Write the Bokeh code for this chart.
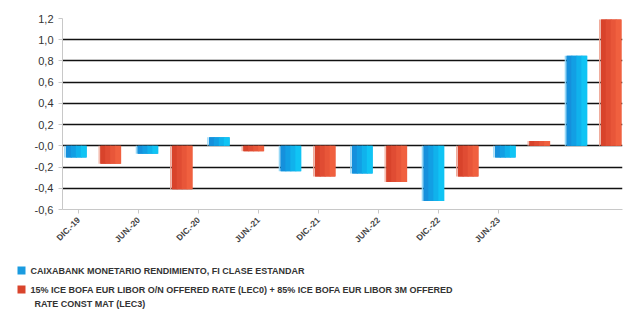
import math
from bokeh.plotting import figure
from bokeh.layouts import column, row
from bokeh.models import FixedTicker, Range1d
from bokeh.core.properties import value
from bokeh.embed import file_html
from bokeh.resources import INLINE

periods = ["DIC.-19", "JUN.-20", "DIC.-20", "JUN.-21", "DIC.-21", "JUN.-22", "DIC.-22", "JUN.-23"]
fund = [-0.11, -0.075, 0.08, -0.24, -0.26, -0.52, -0.11, 0.85]
bench = [-0.17, -0.41, -0.05, -0.29, -0.34, -0.29, 0.045, 1.19]
y_ticks = [-0.6, -0.4, -0.2, 0.0, 0.2, 0.4, 0.6, 0.8, 1.0, 1.2]
y_labels = ["-0,6", "-0,4", "-0,2", "-0,0", "0,2", "0,4", "0,6", "0,8", "1,0", "1,2"]
legend_names = ["CAIXABANK MONETARIO RENDIMIENTO, FI CLASE ESTANDAR",
                "15% ICE BOFA EUR LIBOR O/N OFFERED RATE (LEC0) + 85% ICE BOFA EUR LIBOR 3M OFFERED",
                "RATE CONST MAT (LEC3)"]

FONT = "Liberation Sans"
blue_grad = ["#1590dc", "#129fe4", "#10b2ec", "#10c4f4"]
red_grad = ["#d8432b", "#e04c33", "#e85639", "#f0603f"]
blue_light = "#8fd6f6"
red_light = "#f0a898"

p = figure(width=625, height=255, output_backend="svg", toolbar_location=None,
           x_range=Range1d(-0.4336, 7.3986), y_range=Range1d(-0.6, 1.2),
           min_border_left=62, min_border_right=3, min_border_top=18, min_border_bottom=46)
p.outline_line_color = None
p.background_fill_color = "white"

idx = list(range(len(periods)))
bw = 0.28
offs = 0.24
px = 1 / 71.5
nstrip = len(blue_grad)
sw = bw / nstrip
for vals, off, grad, light in [(fund, -offs, blue_grad, blue_light), (bench, offs, red_grad, red_light)]:
    centers = [i + off for i in idx]
    p.vbar(x=centers, width=bw, top=vals, bottom=0, fill_color=grad[1], line_color=None)
    for k in range(nstrip):
        xs = [c - bw / 2 + sw * (k + 0.5) for c in centers]
        p.vbar(x=xs, width=sw + px, top=vals, bottom=0, fill_color=grad[k], line_color=None)
    xs = [c - bw / 2 - 1.5 * px for c in centers]
    p.vbar(x=xs, width=px * 1.2, top=vals, bottom=0, fill_color=light, line_color=None)

# y axis
p.yaxis.ticker = FixedTicker(ticks=y_ticks)
p.yaxis.major_label_overrides = {t: l for t, l in zip(y_ticks, y_labels)}
p.yaxis.axis_line_color = "#c8c8c8"
p.yaxis.major_tick_line_color = "#c8c8c8"
p.yaxis.major_tick_out = 4
p.yaxis.major_tick_in = 0
p.yaxis.minor_tick_line_color = None
p.yaxis.major_label_text_font = FONT
p.yaxis.major_label_text_font_size = "11px"
p.yaxis.major_label_text_color = "#333333"
p.ygrid.ticker = FixedTicker(ticks=y_ticks)
p.ygrid.grid_line_color = "#111111"
p.ygrid.grid_line_width = 1.3
p.xgrid.grid_line_color = None

# x axis with shifted ticks
x_ticks = [-0.21 + 0.839 * i for i in idx]
p.xaxis.ticker = FixedTicker(ticks=x_ticks)
p.xaxis.major_label_overrides = {t: l for t, l in zip(x_ticks, periods)}
p.xaxis.major_label_orientation = math.pi / 4
p.xaxis.axis_line_color = "#c8c8c8"
p.xaxis.major_tick_line_color = "#c8c8c8"
p.xaxis.major_tick_out = 4
p.xaxis.major_tick_in = 0
p.xaxis.minor_tick_line_color = None
p.xaxis.major_label_text_font = FONT
p.xaxis.major_label_text_font_size = "8.5px"
p.xaxis.major_label_text_font_style = "bold"
p.xaxis.major_label_text_color = "#444444"

# legend panel
lg = figure(width=625, height=56, output_backend="svg", toolbar_location=None,
            x_range=Range1d(0, 625), y_range=Range1d(56, 0),
            min_border=0)
lg.outline_line_color = None
lg.axis.visible = False
lg.grid.visible = False
lg.rect(x=[21, 21], y=[15, 34], width=8, height=8, fill_color=["#1a9be0", "#d9442c"], line_color=None)
lg.text(x=[30, 30, 34], y=[15, 34, 48], text=legend_names, text_font=value(FONT),
        text_font_size="9px", text_baseline="middle", text_color="#333333", text_font_style="bold")

layout = column(p, row(lg), spacing=0)
open("out.html", "w").write(file_html(layout, INLINE))
